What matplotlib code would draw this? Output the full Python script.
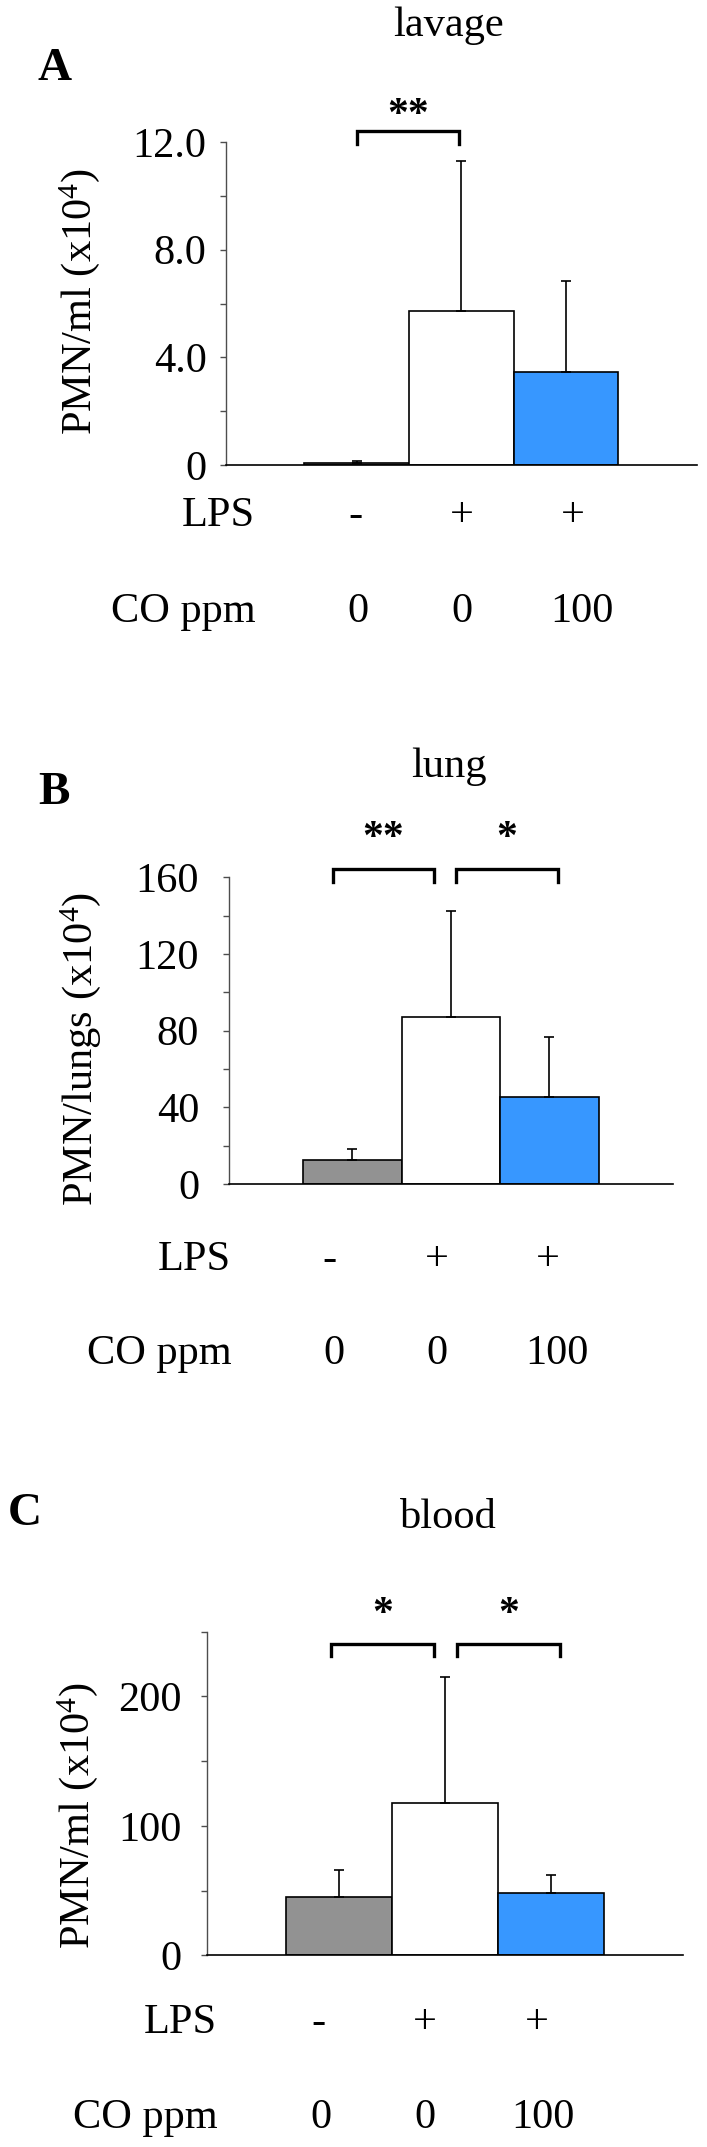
import matplotlib
matplotlib.use("Agg")
import matplotlib.pyplot as plt
from matplotlib.ticker import MultipleLocator

plt.rcParams['font.family'] = ['Liberation Serif', 'DejaVu Serif']
plt.rcParams['font.size'] = 30.5

W, H = 707, 2147
FS = 30.5

# --- data ---
groups = [0, 1, 2]
lps_labels = ['-', '+', '+']
co_labels = ['0', '0', '100']
bar_colors = ['#929292', '#ffffff', '#3797ff']

lavage_mean = [0.06, 5.71, 3.44]
lavage_sd = [0.09, 5.57, 3.39]
lung_mean = [12.3, 86.9, 45.2]
lung_sd = [6.1, 55.4, 31.6]
blood_mean = [44.8, 117.5, 48.4]
blood_sd = [20.9, 97.8, 13.4]

lavage_sig = [(0, 1, '**')]
lung_sig = [(0, 1, '**'), (1, 2, '*')]
blood_sig = [(0, 1, '*'), (1, 2, '*')]

lavage_ticks = [0, 4, 8, 12]
lavage_ticklabels = ['0', '4.0', '8.0', '12.0']
lung_ticks = [0, 40, 80, 120, 160]
lung_ticklabels = ['0', '40', '80', '120', '160']
blood_ticks = [0, 100, 200]
blood_ticklabels = ['0', '100', '200']

# --- layout (pixels of the 707x2147 canvas) ---
panels = [
    dict(letter='A', title='lavage', ylabel='PMN/ml (x10$\\mathregular{^4}$)',
         mean=lavage_mean, sd=lavage_sd, sig=lavage_sig,
         ticks=lavage_ticks, ticklabels=lavage_ticklabels, ymax=12, minor=2,
         box=(226, 142, 696.6, 465), letter_xy=(37, 80), title_xy=(448, 36),
         ylabel_xy=(80, 302), pad=10, head_x=-0.97, lps_y=-0.189, co_y=-0.485,
         lps_dx=[-0.015, 0.01, 0.067], co_dx=[0.013, 0.01, 0.153],
         br_dx=[(0.0, -0.02)], br_y=(12.41, 11.92, 12.96)),
    dict(letter='B', title='lung', ylabel='PMN/lungs (x10$\\mathregular{^4}$)',
         mean=lung_mean, sd=lung_sd, sig=lung_sig,
         ticks=lung_ticks, ticklabels=lung_ticklabels, ymax=160, minor=20,
         box=(229, 877.3, 672.7, 1184), letter_xy=(38, 804), title_xy=(448.6, 777),
         ylabel_xy=(81, 1049), pad=17.6, head_x=-1.227, lps_y=-0.280, co_y=-0.587,
         lps_dx=[-0.23, -0.137, -0.018], co_dx=[-0.183, -0.137, 0.072],
         br_dx=[(-0.196, -0.174), (0.054, 0.087)], br_y=(164.2, 157.6, 179.8)),
    dict(letter='C', title='blood', ylabel='PMN/ml (x10$\\mathregular{^4}$)',
         mean=blood_mean, sd=blood_sd, sig=blood_sig,
         ticks=blood_ticks, ticklabels=blood_ticklabels, ymax=250, minor=50,
         box=(206.7, 1631.6, 683.3, 1955.3), letter_xy=(8, 1525), title_xy=(448.5, 1528),
         ylabel_xy=(78, 1816), pad=14.4, head_x=-1.151, lps_y=-0.240, co_y=-0.534,
         lps_dx=[-0.196, -0.192, -0.137], co_dx=[-0.17, -0.19, -0.075],
         br_dx=[(-0.076, -0.107), (0.117, 0.085)], br_y=(240.6, 230.8, 263)),
]

fig = plt.figure(figsize=(W / 100, H / 100), dpi=100)

for p in panels:
    l, t, r, b = p['box']
    ax = fig.add_axes([l / W, 1 - b / H, (r - l) / W, (b - t) / H])

    ax.bar(groups, p['mean'], width=1.0, color=bar_colors,
           edgecolor='black', linewidth=1.2, zorder=2)
    ax.errorbar(groups, p['mean'], yerr=[[0, 0, 0], p['sd']], fmt='none',
                ecolor='black', elinewidth=1.2, capsize=3.8, capthick=1.2, zorder=3)

    ax.set_xlim(-1.25, 3.25)
    ax.set_ylim(0, p['ymax'])
    ax.set_xticks([])
    ax.set_yticks(p['ticks'], p['ticklabels'])
    ax.yaxis.set_minor_locator(MultipleLocator(p['minor']))
    ax.tick_params(axis='y', which='both', direction='out', length=4,
                   width=1, color='0.3', pad=p['pad'], labelsize=FS)
    for side in ['top', 'right']:
        ax.spines[side].set_visible(False)
    ax.spines['left'].set_color('0.3')
    ax.spines['left'].set_linewidth(1.0)
    ax.spines['bottom'].set_linewidth(1.2)

    # significance brackets
    top, leg, star = p['br_y']
    for (i, j, txt), (d0, d1) in zip(p['sig'], p['br_dx']):
        x0, x1 = i + d0, j + d1
        ax.plot([x0, x0, x1, x1], [leg, top, top, leg], color='black',
                lw=2.4, clip_on=False, solid_joinstyle='miter')
        ax.text((x0 + x1) / 2, star, txt, ha='center', va='center',
                fontsize=30, fontweight='bold', clip_on=False)

    # LPS / CO rows under the bars
    tr = ax.get_xaxis_transform()
    ax.text(p['head_x'], p['lps_y'], 'LPS', transform=tr, ha='right', va='baseline', fontsize=FS)
    ax.text(p['head_x'], p['co_y'], 'CO ppm', transform=tr, ha='right', va='baseline', fontsize=FS)
    for g, lab, dx in zip(groups, lps_labels, p['lps_dx']):
        ax.text(g + dx, p['lps_y'], lab, transform=tr, ha='center', va='baseline', fontsize=FS)
    for g, lab, dx in zip(groups, co_labels, p['co_dx']):
        ax.text(g + dx, p['co_y'], lab, transform=tr, ha='center', va='baseline', fontsize=FS)

    lx, ly = p['letter_xy']
    fig.text(lx / W, 1 - ly / H, p['letter'], ha='left', va='baseline',
             fontsize=34, fontweight='bold')
    tx, ty = p['title_xy']
    fig.text(tx / W, 1 - ty / H, p['title'], ha='center', va='baseline', fontsize=FS)
    yx, yy = p['ylabel_xy']
    fig.text(yx / W, 1 - yy / H, p['ylabel'], ha='center', va='center',
             rotation=90, fontsize=FS)

fig.savefig('out.png', dpi=100)
